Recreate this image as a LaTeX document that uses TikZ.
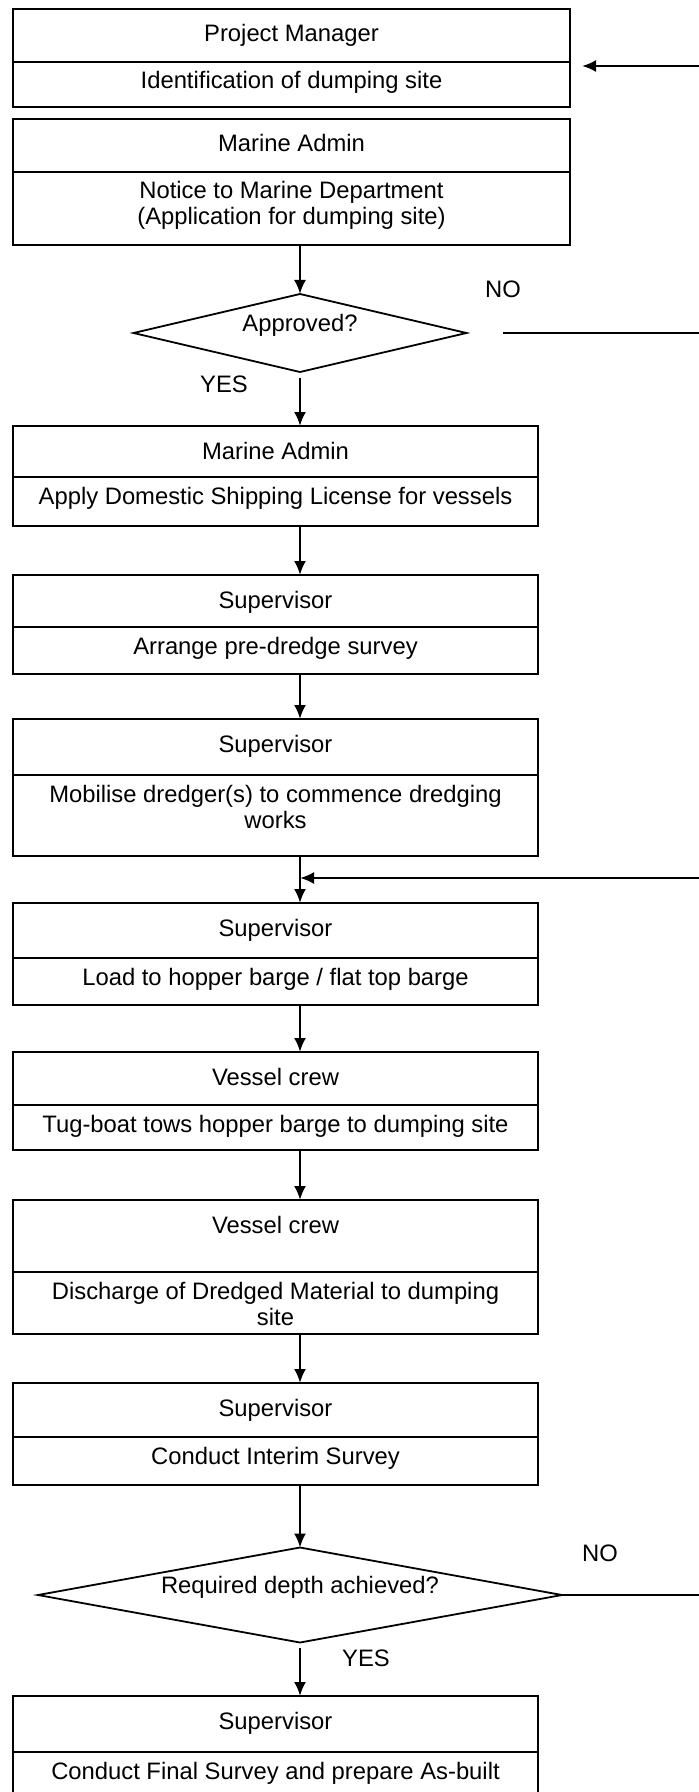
\documentclass[tikz,border=0pt]{standalone}
\usepackage{fontspec}
\setmainfont{Liberation Sans}
\usetikzlibrary{arrows.meta,shapes.geometric}

\tikzset{
  cell/.style={draw, line width=1.1pt, rectangle, anchor=north, inner sep=0pt, outer sep=0pt, align=center},
  wide/.style={cell, minimum width=278.5pt},
  narrow/.style={cell, minimum width=262.5pt},
  role/.style={text height=16.5pt},
  task/.style={text height=13.5pt},
  task2/.style={text height=26.5pt},
  decision/.style={draw, line width=0.9pt, diamond, inner sep=0pt, outer sep=0pt, text height=8pt, text depth=9.6pt},
  flow/.style={line width=1.1pt, -{Latex[length=7pt,width=6pt]}},
  answer/.style={inner sep=0pt},
}

\begin{document}
\begin{tikzpicture}[x=0.5pt, y=-0.5pt, font={\fontsize{11.9}{13}\selectfont}]
    \useasboundingbox (0,0) rectangle (699,1792);
    \coordinate (col) at (300,0);
    \coordinate (edge) at (699,0);

    % stages: who on top, what below
    \node[wide, role, text depth=10pt] (pm) at (291.5,9) {Project Manager};
    \node[wide, task, text depth=9pt] (pmt) at (pm.south) {Identification of dumping site};
    \node[wide, role, text depth=10pt] (ma) at (291.5,119) {Marine Admin};
    \node[wide, task2, text depth=10pt] (mat) at (ma.south) {Notice to Marine Department\\(Application for dumping site)};

    \node[decision, minimum width=166.5pt, minimum height=39pt, aspect=4.3] (appr) at (300,333) {Approved?};

    \node[narrow, role, text depth=9pt] (ma2) at (275.5,426) {Marine Admin};
    \node[narrow, task, text depth=11pt] (ma2t) at (ma2.south) {Apply Domestic Shipping License for vessels};
    \node[narrow, role, text depth=9.5pt] (sv1) at (275.5,575) {Supervisor};
    \node[narrow, task, text depth=10pt] (sv1t) at (sv1.south) {Arrange pre-dredge survey};
    \node[narrow, role, text depth=11.5pt] (sv2) at (275.5,719) {Supervisor};
    \node[narrow, task2, text depth=14pt] (sv2t) at (sv2.south) {Mobilise dredger(s) to commence dredging\\works};
    \node[narrow, role, text depth=11pt] (sv3) at (275.5,903) {Supervisor};
    \node[narrow, task, text depth=10pt] (sv3t) at (sv3.south) {Load to hopper barge / flat top barge};
    \node[narrow, role, text depth=10pt] (vc1) at (275.5,1052) {Vessel crew};
    \node[narrow, task, text depth=9pt] (vc1t) at (vc1.south) {Tug-boat tows hopper barge to dumping site};
    \node[narrow, role, text depth=19.5pt] (vc2) at (275.5,1200) {Vessel crew};
    \node[narrow, task2, text depth=4.5pt] (vc2t) at (vc2.south) {Discharge of Dredged Material to dumping\\site};
    \node[narrow, role, text depth=10.5pt] (sv4) at (275.5,1383) {Supervisor};
    \node[narrow, task, text depth=10.5pt] (sv4t) at (sv4.south) {Conduct Interim Survey};

    \node[decision, minimum width=262pt, minimum height=47.5pt, aspect=5.5] (depth) at (300,1595) {Required depth achieved?};

    \node[narrow, role, text depth=11.5pt] (sv5) at (275.5,1696) {Supervisor};
    \node[narrow, task, text depth=11.5pt] (sv5t) at (sv5.south) {Conduct Final Survey and prepare As-built};

    % answers
    \node[answer] (no1) at (503,289) {NO};
    \node[answer] (yes1) at (224,384) {YES};
    \node[answer] (no2) at (600,1553) {NO};
    \node[answer] (yes2) at (366,1658) {YES};

    % main flow
    \foreach \a/\b in {mat/appr, ma2t/sv1, sv1t/sv2, sv2t/sv3, sv3t/vc1, vc1t/vc2, vc2t/sv4, sv4t/depth}
        \draw[flow] (\a.south -| col) -- (\b.north -| col);
    \draw[flow, shorten <=3pt] (appr.south) -- (ma2.north -| col);
    \draw[flow, shorten <=2.5pt] (depth.south) -- (sv5.north -| col);

    % loops coming back from the right
    \coordinate (back1) at (699,66);
    \coordinate (back2) at (699,878);
    \draw[flow, shorten >=6pt] (back1) -- (back1 -| pm.east);
    \draw[line width=1.1pt, shorten <=18pt] (appr.east) -- (appr.east -| edge);
    \draw[flow] (back2) -- (back2 -| col);
    \draw[line width=1.1pt] (depth.east) -- (depth.east -| edge);
\end{tikzpicture}
\end{document}
